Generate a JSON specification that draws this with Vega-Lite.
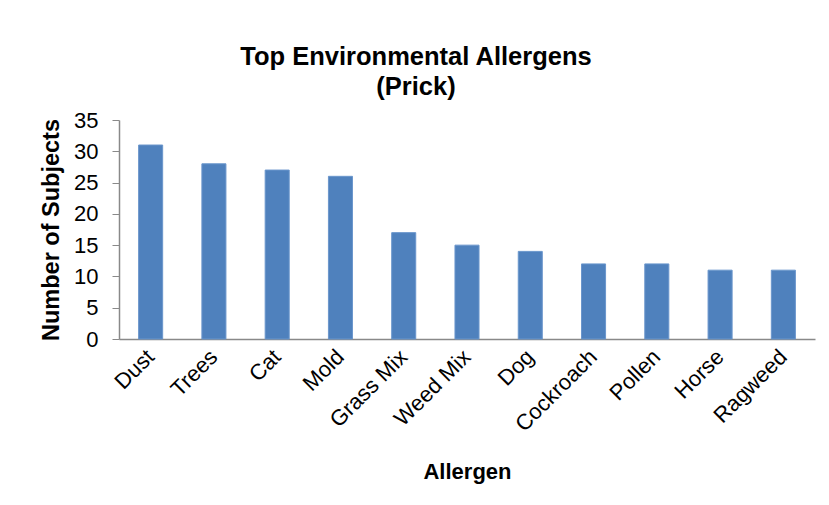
{
  "$schema": "https://vega.github.io/schema/vega-lite/v6.json",
  "autosize": {"type": "none"},
  "width": 696,
  "height": 219,
  "padding": {"left": 119, "top": 120, "right": 14, "bottom": 166},
  "background": "white",
  "title": {
    "text": ["Top Environmental Allergens", "(Prick)"],
    "fontSize": 25.5,
    "fontWeight": "bold",
    "font": "Liberation Sans",
    "color": "#000000",
    "anchor": "middle",
    "frame": "group",
    "dx": -51,
    "lineHeight": 30,
    "offset": 9
  },
  "data": {
    "values": [
      {"allergen": "Dust", "subjects": 31},
      {"allergen": "Trees", "subjects": 28},
      {"allergen": "Cat", "subjects": 27},
      {"allergen": "Mold", "subjects": 26},
      {"allergen": "Grass Mix", "subjects": 17},
      {"allergen": "Weed Mix", "subjects": 15},
      {"allergen": "Dog", "subjects": 14},
      {"allergen": "Cockroach", "subjects": 12},
      {"allergen": "Pollen", "subjects": 12},
      {"allergen": "Horse", "subjects": 11},
      {"allergen": "Ragweed", "subjects": 11}
    ]
  },
  "mark": {"type": "bar", "color": "#4F81BD", "stroke": "#6A96CC", "strokeWidth": 1},
  "encoding": {
    "x": {
      "field": "allergen",
      "type": "nominal",
      "sort": null,
      "scale": {"paddingInner": 0.62, "paddingOuter": 0.31},
      "axis": {
        "title": "Allergen",
        "titleFont": "Liberation Sans",
        "titleFontSize": 22,
        "titleFontWeight": "bold",
        "titleColor": "#000000",
        "titlePadding": 26,
        "labelFont": "Liberation Sans",
        "labelFontSize": 22,
        "labelColor": "#000000",
        "labelAngle": -45,
        "labelAlign": "right",
        "labelBaseline": "middle",
        "labelPadding": 14,
        "ticks": false,
        "domainColor": "#898989",
        "domainWidth": 1.5
      }
    },
    "y": {
      "field": "subjects",
      "type": "quantitative",
      "scale": {"domain": [0, 35], "nice": false},
      "axis": {
        "title": "Number of Subjects",
        "titleFont": "Liberation Sans",
        "titleFontSize": 23.5,
        "titleFontWeight": "bold",
        "titleColor": "#000000",
        "titlePadding": 10,
        "values": [0, 5, 10, 15, 20, 25, 30, 35],
        "labelFont": "Liberation Sans",
        "labelFontSize": 22,
        "labelColor": "#000000",
        "labelPadding": 14,
        "tickSize": 7,
        "tickColor": "#898989",
        "domainColor": "#898989",
        "domainWidth": 1.5,
        "grid": false
      }
    }
  },
  "config": {"view": {"stroke": null}}
}
